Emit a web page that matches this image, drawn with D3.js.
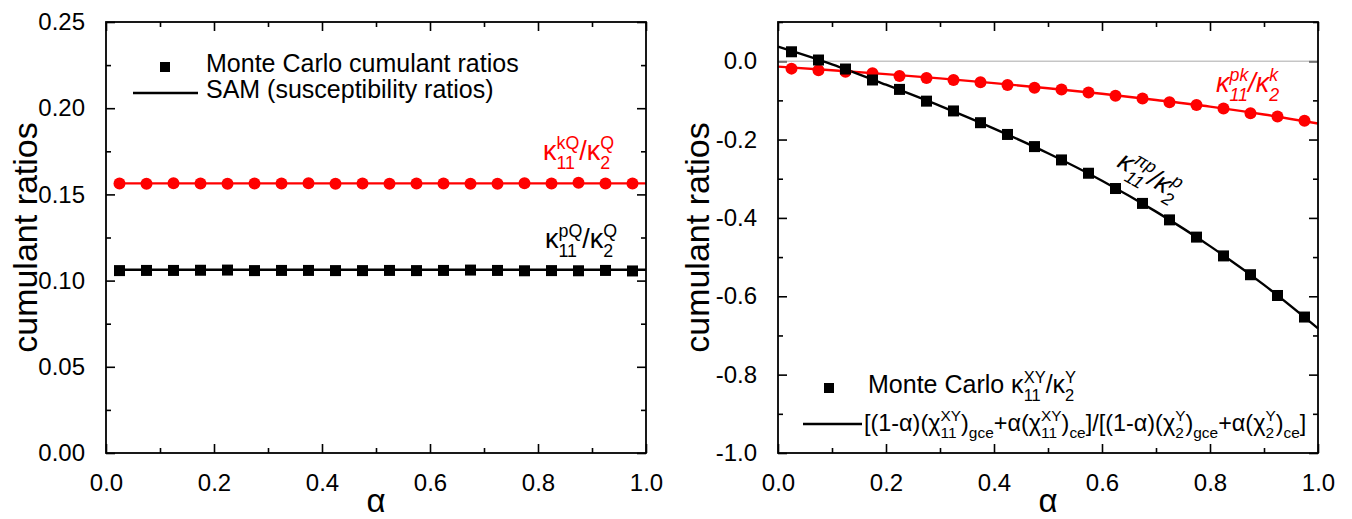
<!DOCTYPE html>
<html>
<head>
<meta charset="utf-8">
<script src="https://cdn.jsdelivr.net/npm/d3@7"></script>
<style>
  body { margin: 0; background: #fff; }
  svg text { font-family: "Liberation Sans", Arial, sans-serif; }
</style>
</head>
<body>
<svg id="chart" width="1352" height="519"></svg>
<script>
// alpha values of the Monte Carlo points
const alphas = [0.025, 0.075, 0.125, 0.175, 0.225, 0.275, 0.325, 0.375, 0.425, 0.475,
                0.525, 0.575, 0.625, 0.675, 0.725, 0.775, 0.825, 0.875, 0.925, 0.975];

// left panel
const kQ = [0.1563, 0.1562, 0.1564, 0.1563, 0.1562, 0.1563, 0.1563, 0.1565, 0.1562, 0.1563,
            0.1562, 0.1563, 0.1563, 0.1562, 0.1562, 0.1564, 0.1563, 0.1567, 0.1563, 0.1563];
const pQ = [0.1058, 0.1059, 0.1059, 0.1060, 0.1061, 0.1058, 0.1059, 0.1059, 0.1058, 0.1058,
            0.1059, 0.1058, 0.1059, 0.1061, 0.1059, 0.1057, 0.1058, 0.1057, 0.1059, 0.1056];
const samX = [0.02, 1.0];
const samKQ = [0.1564, 0.1564];
const samPQ = [0.1063, 0.1063];

// right panel
const pk = [-0.019, -0.023, -0.027, -0.031, -0.038, -0.043, -0.048, -0.054, -0.061, -0.068,
            -0.072, -0.080, -0.088, -0.095, -0.105, -0.112, -0.121, -0.133, -0.141, -0.152];
const piP = [0.024, 0.003, -0.020, -0.048, -0.072, -0.102, -0.127, -0.157, -0.187, -0.218,
             -0.252, -0.286, -0.325, -0.363, -0.405, -0.449, -0.497, -0.545, -0.598, -0.653];
const theoX = [0.0, 0.1, 0.2, 0.3, 0.4, 0.5, 0.6, 0.7, 0.8, 0.9, 1.0];
const theoPk = [-0.014, -0.023, -0.033, -0.044, -0.056, -0.069, -0.083, -0.099, -0.116, -0.136, -0.159];
const theoPiP = [0.037, -0.008, -0.060, -0.114, -0.172, -0.235, -0.305, -0.384, -0.472, -0.571, -0.682];

const xTicks = [0, 0.2, 0.4, 0.6, 0.8, 1.0];
const xMinor = [0.1, 0.3, 0.5, 0.7, 0.9];
const leftYTicks = [0, 0.05, 0.10, 0.15, 0.20, 0.25];
const leftYMinor = [0.025, 0.075, 0.125, 0.175, 0.225];
const rightYTicks = [-1.0, -0.8, -0.6, -0.4, -0.2, 0.0];
const rightYMinor = [-0.9, -0.7, -0.5, -0.3, -0.1, 0.1];

const svg = d3.select("#chart");
const loc = d3.formatLocale({decimal: ".", thousands: ",", grouping: [3], currency: ["", ""], minus: "-"});

// text with stacked super/subscripts
function rich(g, x, y, items, size, color, italic) {
  let cx = x;
  items.forEach(it => {
    const mk = (txt, yy, fs) => g.append("text").attr("x", cx).attr("y", yy)
      .style("font-size", fs + "px").style("font-style", italic ? "italic" : "normal")
      .attr("fill", color).text(txt);
    if (it.base) cx += mk(it.base, y, size).node().getComputedTextLength();
    let w = 0;
    if (it.sup) w = Math.max(w, mk(it.sup, y - size * 0.42, size * 0.66).node().getComputedTextLength());
    if (it.sub) w = Math.max(w, mk(it.sub, y + size * 0.32, size * 0.66).node().getComputedTextLength());
    cx += w;
  });
  return cx;
}

function panel(opt) {
  const g = svg.append("g");
  const x = d3.scaleLinear().domain([0, 1]).range([opt.left, opt.left + 540]);
  const y = d3.scaleLinear().domain(opt.yDomain).range([453, 22]);
  const B = 453, T = 22, L = opt.left, R = opt.left + 540;

  const fmtX = loc.format(".1f"), fmtY = loc.format(opt.yFmt);
  const styleAxis = a => {
    a.select(".domain").remove();
    a.selectAll("line").attr("stroke", "#000").attr("stroke-width", 1.6);
    a.selectAll("text").style("font-size", "24px").attr("fill", "#000");
  };
  g.append("g").attr("transform", `translate(0,${B})`)
    .call(d3.axisBottom(x).tickValues(xTicks).tickSize(-9).tickPadding(21).tickFormat(fmtX)).call(styleAxis);
  g.append("g").attr("transform", `translate(0,${B})`)
    .call(d3.axisBottom(x).tickValues(xMinor).tickSize(-5).tickFormat("")).call(styleAxis);
  g.append("g").attr("transform", `translate(0,${T})`)
    .call(d3.axisTop(x).tickValues(xTicks).tickSize(-9).tickFormat("")).call(styleAxis);
  g.append("g").attr("transform", `translate(0,${T})`)
    .call(d3.axisTop(x).tickValues(xMinor).tickSize(-5).tickFormat("")).call(styleAxis);
  g.append("g").attr("transform", `translate(${L},0)`)
    .call(d3.axisLeft(y).tickValues(opt.yTicks).tickSize(-9).tickPadding(21).tickFormat(fmtY)).call(styleAxis);
  g.append("g").attr("transform", `translate(${L},0)`)
    .call(d3.axisLeft(y).tickValues(opt.yMinor).tickSize(-5).tickFormat("")).call(styleAxis);
  g.append("g").attr("transform", `translate(${R},0)`)
    .call(d3.axisRight(y).tickValues(opt.yTicks).tickSize(-9).tickFormat("")).call(styleAxis);
  g.append("g").attr("transform", `translate(${R},0)`)
    .call(d3.axisRight(y).tickValues(opt.yMinor).tickSize(-5).tickFormat("")).call(styleAxis);

  if (opt.zeroLine) {
    g.append("line").attr("x1", L).attr("x2", R).attr("y1", y(0)).attr("y2", y(0))
      .attr("stroke", "#aaa").attr("stroke-width", 1);
  }

  const line = d3.line().x(d => x(d[0])).y(d => y(d[1])).curve(d3.curveMonotoneX);
  opt.series.forEach(s => {
    g.append("path").datum(d3.zip(s.lx, s.ly)).attr("d", line)
      .attr("fill", "none").attr("stroke", s.color).attr("stroke-width", 2.4);
  });
  opt.series.forEach(s => {
    const pts = d3.zip(alphas, s.pts);
    if (s.shape === "circle") {
      g.selectAll(null).data(pts).enter().append("circle")
        .attr("cx", d => x(d[0])).attr("cy", d => y(d[1])).attr("r", 6).attr("fill", s.color);
    } else {
      g.selectAll(null).data(pts).enter().append("rect")
        .attr("x", d => x(d[0]) - 5.5).attr("y", d => y(d[1]) - 5.5)
        .attr("width", 11).attr("height", 11).attr("fill", s.color);
    }
  });

  g.append("rect").attr("x", L).attr("y", T).attr("width", R - L).attr("height", B - T)
    .attr("fill", "none").attr("stroke", "#000").attr("stroke-width", 1.8);

  g.append("text").attr("transform", `translate(${L - 69},${(T + B) / 2}) rotate(-90)`)
    .attr("text-anchor", "middle").style("font-size", "34px").text("cumulant ratios");
  g.append("text").attr("x", (L + R) / 2).attr("y", 512).attr("text-anchor", "middle")
    .style("font-size", "33px").text("α");
  return g;
}

// left panel
const gl = panel({
  left: 106, yDomain: [0, 0.25], yTicks: leftYTicks, yMinor: leftYMinor, yFmt: ".2f",
  series: [
    {color: "#ff0000", shape: "circle", pts: kQ, lx: samX, ly: samKQ},
    {color: "#000", shape: "square", pts: pQ, lx: samX, ly: samPQ}
  ]
});
gl.append("rect").attr("x", 160).attr("y", 62).attr("width", 10).attr("height", 10).attr("fill", "#000");
gl.append("text").attr("x", 206).attr("y", 72).style("font-size", "25px").text("Monte Carlo cumulant ratios");
gl.append("line").attr("x1", 133).attr("x2", 198).attr("y1", 93).attr("y2", 93)
  .attr("stroke", "#000").attr("stroke-width", 2.4);
gl.append("text").attr("x", 206).attr("y", 98).style("font-size", "25px").text("SAM (susceptibility ratios)");
rich(gl, 543, 160, [{base: "κ", sup: "kQ", sub: "11"}, {base: "/κ", sup: "Q", sub: "2"}], 27, "#ff0000", false);
rich(gl, 545, 248, [{base: "κ", sup: "pQ", sub: "11"}, {base: "/κ", sup: "Q", sub: "2"}], 27, "#000", false);

// right panel
const gr = panel({
  left: 778, yDomain: [-1.0, 0.1], yTicks: rightYTicks, yMinor: rightYMinor, yFmt: ".1f", zeroLine: true,
  series: [
    {color: "#ff0000", shape: "circle", pts: pk, lx: theoX, ly: theoPk},
    {color: "#000", shape: "square", pts: piP, lx: theoX, ly: theoPiP}
  ]
});
rich(gr, 1216, 92, [{base: "κ", sup: "pk", sub: "11"}, {base: "/κ", sup: "k", sub: "2"}], 27, "#ff0000", true);
const rot = gr.append("g").attr("transform", "translate(1116,166) rotate(30)");
rich(rot, 0, 0, [{base: "κ", sup: "πp", sub: "11"}, {base: "/κ", sup: "p", sub: "2"}], 27, "#000", true);

gr.append("rect").attr("x", 824).attr("y", 383).attr("width", 10).attr("height", 10).attr("fill", "#000");
rich(gr, 868, 393, [{base: "Monte Carlo κ", sup: "XY", sub: "11"}, {base: "/κ", sup: "Y", sub: "2"}], 25, "#000", false);
gr.append("line").attr("x1", 803).attr("x2", 862).attr("y1", 424).attr("y2", 424)
  .attr("stroke", "#000").attr("stroke-width", 2.4);
rich(gr, 864, 431, [
  {base: "[(1-α)(χ", sup: "XY", sub: "11"}, {base: ")", sub: "gce"},
  {base: "+α(χ", sup: "XY", sub: "11"}, {base: ")", sub: "ce"},
  {base: "]/[(1-α)(χ", sup: "Y", sub: "2"}, {base: ")", sub: "gce"},
  {base: "+α(χ", sup: "Y", sub: "2"}, {base: ")", sub: "ce"}, {base: "]"}
], 23.4, "#000", false);
</script>
</body>
</html>
